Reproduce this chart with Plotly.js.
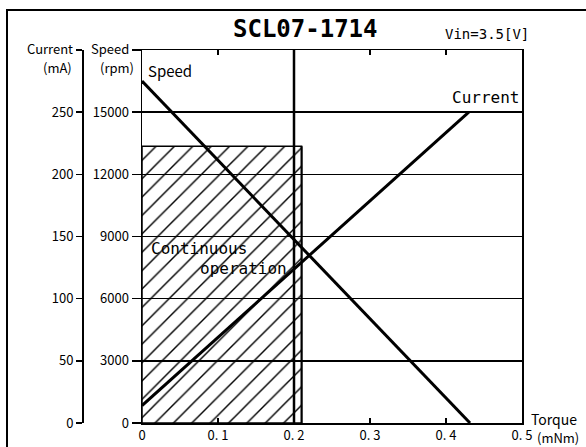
<!DOCTYPE html>
<html><head><meta charset="utf-8">
<script src="https://cdn.plot.ly/plotly-3.0.1.min.js"></script>
<style>html,body{margin:0;padding:0;background:#fff}#c{width:586px;height:447px}</style>
</head><body><div id="c"></div>
<script>
// Data
const speedTorque = [0, 0.4316];      // mNm
const speedValues = [16500, 0];       // rpm
const currentTorque = [0, 0.43];      // mNm
const currentValues = [14, 250];      // mA
const contTorque = [0.21];            // continuous operation torque limit
const contSpeed = [13350];            // continuous operation speed limit
const ratedTorque = 0.2;
const xTicks = [0, 0.1, 0.2, 0.3, 0.4, 0.5];
const xTickText = ['0', '0. 1', '0. 2', '0. 3', '0. 4', '0. 5'];
const speedTicks = [0, 3000, 6000, 9000, 12000, 15000, 18000];
const speedTickText = ['0', '3000', '6000', '9000', '12000', '15000', ''];
const currentTicks = [0, 50, 100, 150, 200, 250, 300];
const currentTickText = ['0', '50', '100', '150', '200', '250', ''];

const F = '"Noto Sans CJK JP", "DejaVu Sans", sans-serif';
const M = '"DejaVu Sans Mono", monospace';
const W = 586, H = 447, ML = 60, MR = 64, MT = 50, MB = 24;
const PW = W - ML - MR, PH = H - MT - MB;
const px = x => (x - ML) / PW;
const py = y => (H - MB - y) / PH;

const traces = [
  {type: 'bar', x: [contTorque[0] / 2], y: contSpeed, width: contTorque, yaxis: 'y',
   marker: {color: 'rgba(0,0,0,0)', line: {color: 'black', width: 1.5},
            pattern: {shape: '/', size: 13, solidity: 0.11, fgcolor: 'black', bgcolor: 'rgba(0,0,0,0)'}},
   hoverinfo: 'skip', showlegend: false},
  {type: 'scatter', mode: 'lines', x: speedTorque, y: speedValues, yaxis: 'y',
   line: {color: 'black', width: 3}, showlegend: false},
  {type: 'scatter', mode: 'lines', x: currentTorque, y: currentValues, yaxis: 'y2',
   line: {color: 'black', width: 3}, showlegend: false}
];

const layout = {
  width: W, height: H,
  margin: {l: ML, r: MR, t: MT, b: MB},
  paper_bgcolor: 'white', plot_bgcolor: 'white',
  font: {family: F, color: 'black', size: 13},
  showlegend: false, bargap: 0,
  xaxis: {domain: [px(142), 1], range: [0, 0.5], tickvals: xTicks, ticktext: xTickText,
          ticks: 'inside', ticklen: 5, tickwidth: 1.5, tickcolor: 'black',
          showline: true, linecolor: 'black', linewidth: 1.5, mirror: 'ticks',
          showgrid: false, zeroline: false, fixedrange: true,
          tickfont: {family: F, size: 13}},
  yaxis: {range: [0, 18000], tickvals: speedTicks, ticktext: speedTickText,
          ticks: 'outside', ticklen: 9, tickwidth: 1.5, tickcolor: 'black',
          showline: true, linecolor: 'black', linewidth: 1.5, mirror: true,
          showgrid: true, gridcolor: 'black', gridwidth: 1.5, zeroline: false,
          tickfont: {family: F, size: 13}},
  yaxis2: {range: [0, 300], tickvals: currentTicks, ticktext: currentTickText,
           overlaying: 'y', anchor: 'free', position: px(82), side: 'left',
           ticks: 'outside', ticklen: 6, tickwidth: 1.5, tickcolor: 'black',
           showline: true, linecolor: 'black', linewidth: 1.5,
           showgrid: false, zeroline: false, tickfont: {family: F, size: 13}},
  shapes: [
    {type: 'line', xref: 'x', yref: 'paper', x0: ratedTorque, x1: ratedTorque, y0: 0, y1: 1,
     line: {color: 'black', width: 2.5}},
    {type: 'line', xref: 'x', yref: 'y', x0: contTorque[0], x1: contTorque[0], y0: 0, y1: contSpeed[0],
     line: {color: 'black', width: 2}},
    {type: 'rect', xref: 'paper', yref: 'paper', x0: px(7), x1: px(592), y0: py(452), y1: py(10),
     line: {color: 'black', width: 2}}
  ],
  annotations: [
    {text: '<b>SCL07-1714</b>', xref: 'paper', yref: 'paper', x: px(305), y: py(29), showarrow: false,
     font: {family: M, size: 24, color: 'black'}, xanchor: 'center', yanchor: 'middle'},
    {text: 'Vin=3.5[V]', xref: 'paper', yref: 'paper', x: px(531), y: py(34), showarrow: false,
     font: {family: M, size: 14, color: 'black'}, xanchor: 'right', yanchor: 'middle'},
    {text: 'Current', xref: 'paper', yref: 'paper', x: px(75), y: py(48), showarrow: false,
     font: {family: F, size: 13}, xanchor: 'right', yanchor: 'middle'},
    {text: '(mA)', xref: 'paper', yref: 'paper', x: px(74), y: py(67), showarrow: false,
     font: {family: F, size: 13}, xanchor: 'right', yanchor: 'middle'},
    {text: 'Speed', xref: 'paper', yref: 'paper', x: px(131), y: py(48), showarrow: false,
     font: {family: F, size: 13}, xanchor: 'right', yanchor: 'middle'},
    {text: '(rpm)', xref: 'paper', yref: 'paper', x: px(136), y: py(67), showarrow: false,
     font: {family: F, size: 13}, xanchor: 'right', yanchor: 'middle'},
    {text: 'Speed', xref: 'paper', yref: 'paper', x: px(146), y: py(70), showarrow: false,
     font: {family: F, size: 15}, xanchor: 'left', yanchor: 'middle'},
    {text: 'Current', xref: 'paper', yref: 'paper', x: px(521), y: py(97), showarrow: false,
     font: {family: M, size: 16}, xanchor: 'right', yanchor: 'middle'},
    {text: 'Continuous', xref: 'paper', yref: 'paper', x: px(149), y: py(248), showarrow: false,
     font: {family: M, size: 16}, xanchor: 'left', yanchor: 'middle'},
    {text: 'operation', xref: 'paper', yref: 'paper', x: px(289), y: py(268), showarrow: false,
     font: {family: M, size: 16}, xanchor: 'right', yanchor: 'middle'},
    {text: 'Torque', xref: 'paper', yref: 'paper', x: px(529), y: py(419), showarrow: false,
     font: {family: F, size: 14}, xanchor: 'left', yanchor: 'middle'},
    {text: '(mNm)', xref: 'paper', yref: 'paper', x: px(535), y: py(437), showarrow: false,
     font: {family: F, size: 13}, xanchor: 'left', yanchor: 'middle'}
  ]
};
Plotly.newPlot('c', traces, layout, {displayModeBar: false, staticPlot: true});
</script></body></html>
